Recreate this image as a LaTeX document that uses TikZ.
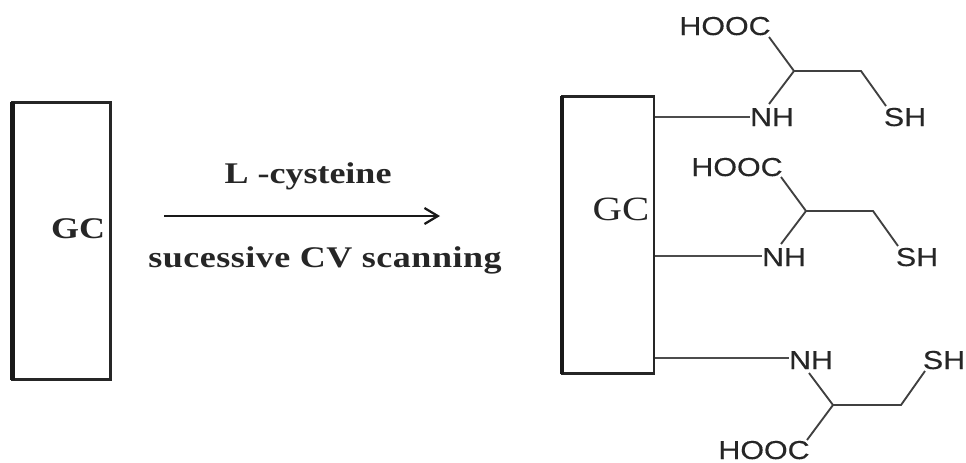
\documentclass[tikz,border=0pt]{standalone}
\usepackage{fontspec}
\usetikzlibrary{arrows.meta}
\newfontfamily\chemfont[FakeStretch=1.17,FakeBold=0.25]{Liberation Sans}
\newfontfamily\labelfont[FakeStretch=1.2,BoldFont={Liberation Serif Bold}]{Liberation Serif}
\newfontfamily\spacedfont[FakeStretch=1.2,LetterSpace=1.7]{Liberation Serif Bold}
\tikzset{
  x=0.75pt,y=-0.75pt,
  every node/.style={inner sep=0pt,outer sep=0pt,text=black!85},
  chem/.style={font=\chemfont\fontsize{19.5}{21}\selectfont,anchor=center,text height=13.5pt,text depth=0pt},
  lab/.style={font=\labelfont\bfseries\fontsize{22.5}{24}\selectfont,anchor=base},
  bond/.style={draw=black!75,line width=1.4pt},
  link/.style={draw=black!70,line width=1.1pt},
  electrode/.style={draw=black!85,line width=2.2pt,fill=white}
}
\begin{document}
\begin{tikzpicture}
\useasboundingbox (0,0) rectangle (966,462);
% left electrode
\node[electrode,minimum width=73.5pt,minimum height=208pt] (e1) at (61.5,241) {};
\draw[black!90,line width=3.4pt] (e1.north west) -- (e1.south west);
\node[lab] (gc1) at (78,238) {GC};
% reaction arrow
\coordinate (as) at (164,216);
\coordinate (ae) at (440,216);
\draw[black!90,line width=1.7pt,-{Straight Barb[length=10pt,width=12pt,line width=1.7pt]}] (as) -- (ae);
\node[lab] (t1) at (308,183) {L\ -cysteine};
\node[lab,font=\spacedfont\fontsize{22.5}{24}\selectfont] (t2) at (325,267) {sucessive CV scanning};
% right electrode
\node[electrode,minimum width=69pt,minimum height=208pt] (e2) at (608,235) {};
\draw[black!90,line width=3pt] (e2.north west) -- (e2.south west);
\node[lab,font=\labelfont\fontsize{25.5}{27}\selectfont] (gc2) at (621,220) {GC};
% molecule 1
\node[chem] (h1) at (725,26) {HOOC};
\node[chem] (n1) at (772,117) {NH};
\node[chem] (s1) at (905,117) {SH};
\coordinate (c1) at (794,71);
\coordinate (d1) at (861,71);
\coordinate (a1) at (655,117);
\coordinate (h1e) at (769,37);
\coordinate (n1e) at (769,104);
\coordinate (s1e) at (886,106);
\draw[link] (a1) -- (a1 -| n1.west);
\draw[bond] (h1e) -- (c1) -- (d1) -- (s1e);
\draw[bond] (c1) -- (n1e);
% molecule 2
\node[chem] (h2) at (737,167) {HOOC};
\node[chem] (n2) at (784,257) {NH};
\node[chem] (s2) at (917,257) {SH};
\coordinate (c2) at (806,211);
\coordinate (d2) at (873,211);
\coordinate (a2) at (655,256);
\coordinate (h2e) at (781,177);
\coordinate (n2e) at (781,244);
\coordinate (s2e) at (898,246);
\draw[link] (a2) -- (a2 -| n2.west);
\draw[bond] (h2e) -- (c2) -- (d2) -- (s2e);
\draw[bond] (c2) -- (n2e);
% molecule 3
\node[chem] (n3) at (811,360) {NH};
\node[chem] (s3) at (944,360) {SH};
\node[chem] (h3) at (764,450) {HOOC};
\coordinate (c3) at (833,405);
\coordinate (d3) at (901,405);
\coordinate (a3) at (655,358);
\coordinate (h3e) at (807,440);
\coordinate (n3e) at (809,373);
\coordinate (s3e) at (925,371);
\draw[link] (a3) -- (a3 -| n3.west);
\draw[bond] (n3e) -- (c3) -- (d3) -- (s3e);
\draw[bond] (c3) -- (h3e);
\end{tikzpicture}
\end{document}
